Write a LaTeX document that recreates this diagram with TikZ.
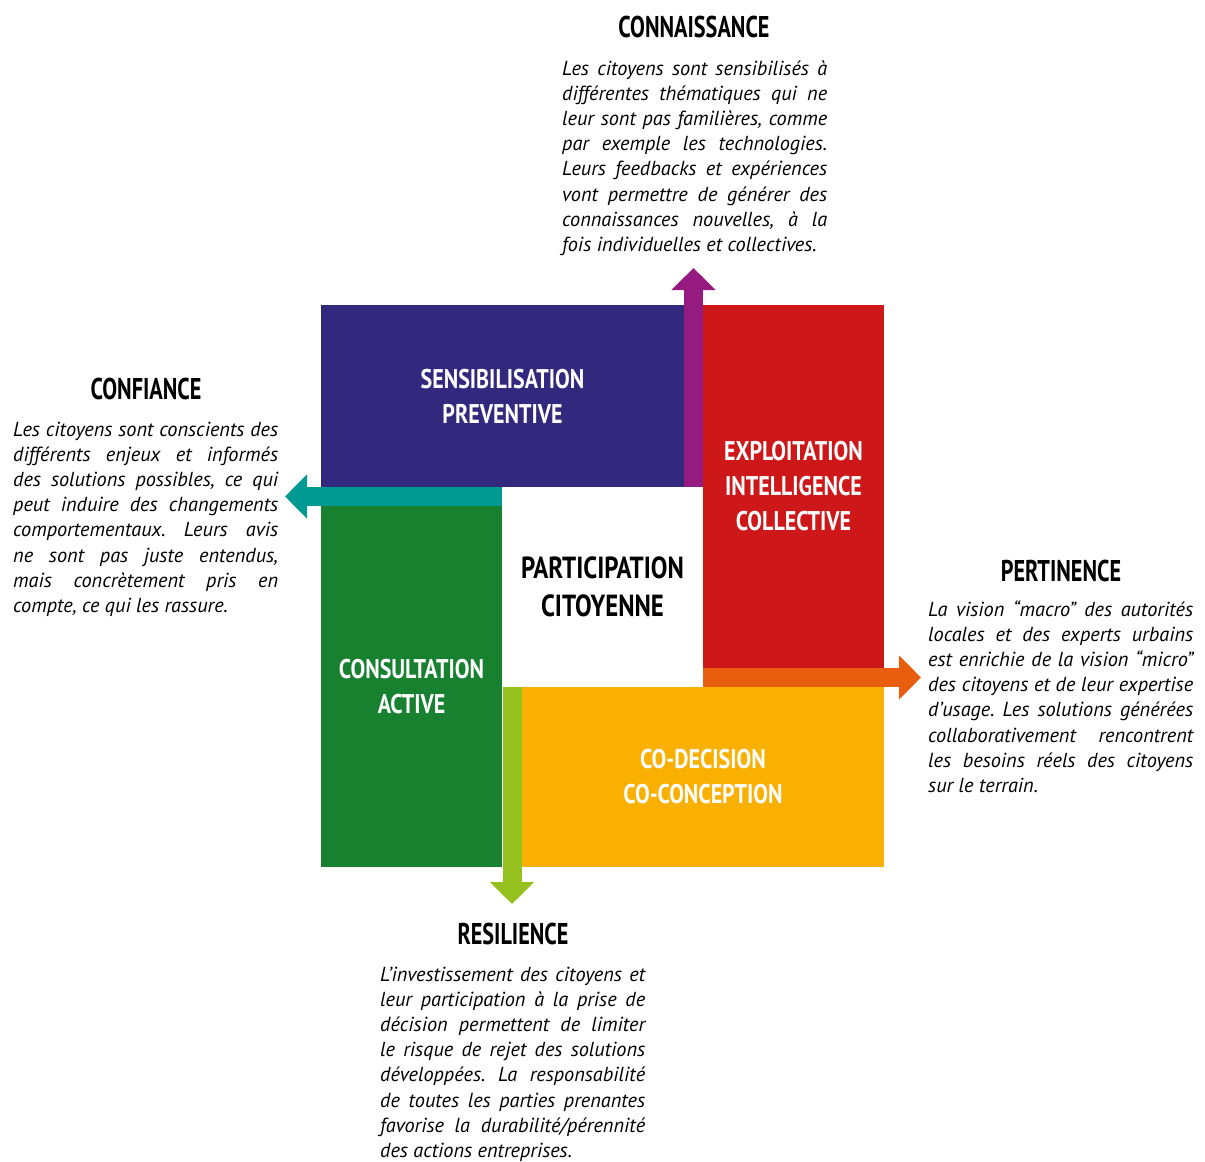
\documentclass[tikz,border=0pt]{standalone}
\usepackage{fontspec}
\setmainfont{PT Sans}
\newfontfamily\hfont[FakeStretch=0.815]{PT Sans}
\newfontfamily\hfontB[FakeStretch=0.74]{PT Sans}
\usetikzlibrary{arrows.meta}
\definecolor{cblue}{HTML}{32287E}
\definecolor{cpurple}{HTML}{951B80}
\definecolor{cred}{HTML}{CD1719}
\definecolor{cteal}{HTML}{009A93}
\definecolor{cgreen}{HTML}{17812F}
\definecolor{corangered}{HTML}{E95D0F}
\definecolor{clime}{HTML}{95C11F}
\definecolor{corange}{HTML}{F9B000}
\newlength\bw \setlength\bw{265pt}
\newcommand\jl[1]{\hbox to\bw{#1}}
\newcommand\lastl[1]{\hbox to\bw{#1\hfil}}
\newcommand\bodytext[1]{\vtop{\hsize=\bw\fontsize{20.3pt}{25.2pt}\selectfont\itshape\frenchspacing\baselineskip=25.2pt #1}}
\begin{document}
\begin{tikzpicture}[x=1pt,y=-1pt,
  block/.style={inner sep=0pt, outer sep=0pt, align=center, text=white,
    font=\hfont\bfseries\fontsize{27pt}{35pt}\selectfont},
  head/.style={inner sep=0pt, anchor=base, font=\hfontB\bfseries\fontsize{30pt}{30pt}\selectfont},
  body/.style={inner sep=0pt, anchor=base west},
  fatarrow/.style={line width=19pt, -{Triangle[length=22pt,width=43pt]}}]
\useasboundingbox (0,0) rectangle (1205,1162);
% blocks
\node[block, fill=cblue, minimum width=363pt, minimum height=182pt] (blue) at (502.5,396) {SENSIBILISATION\\PREVENTIVE};
\node[block, fill=cred, minimum width=181pt, minimum height=363pt] (red) at (793.5,486.5) {EXPLOITATION\\INTELLIGENCE\\COLLECTIVE};
\node[block, fill=cgreen, minimum width=181pt, minimum height=361pt] (green) at (411.5,686.5) {CONSULTATION\\ACTIVE};
\node[block, fill=corange, minimum width=362pt, minimum height=180pt] (orange) at (703,777) {CO-DECISION\\CO-CONCEPTION};
\node[block, text=black, minimum width=201pt, minimum height=200pt,
  font=\hfont\bfseries\fontsize{30.5pt}{38pt}\selectfont] (center) at (602.5,587) {PARTICIPATION\\CITOYENNE};
% arrow tips
\coordinate (tipN) at (693.5,268);
\coordinate (tipW) at (285,496.5);
\coordinate (tipE) at (921,677.5);
\coordinate (tipS) at (512,904);
\draw[fatarrow, cpurple] (center.north -| tipN) -- (tipN);
\draw[fatarrow, cteal] (center.west |- tipW) -- (tipW);
\draw[fatarrow, corangered] (center.east |- tipE) -- (tipE);
\draw[fatarrow, clime] (center.south -| tipS) -- (tipS);
% headings
\node[head] (hN) at (694,37.5) {CONNAISSANCE};
\node[head] (hW) at (146,399.5) {CONFIANCE};
\node[head] (hE) at (1061,581.5) {PERTINENCE};
\node[head] (hS) at (513,944.5) {RESILIENCE};
% texts
\node[body] (tN) at (562,75) {\bodytext{%
\jl{Les citoyens sont sensibilisés à}
\jl{différentes thématiques qui ne}
\jl{leur sont pas familières, comme}
\jl{par exemple les technologies.}
\jl{Leurs feedbacks et expériences}
\jl{vont permettre de générer des}
\jl{connaissances nouvelles, à la}
\lastl{fois individuelles et collectives.}}};
\node[body] (tW) at (13,436) {\bodytext{%
\jl{Les citoyens sont conscients des}
\jl{différents enjeux et informés}
\jl{des solutions possibles, ce qui}
\jl{peut induire des changements}
\jl{comportementaux. Leurs avis}
\jl{ne sont pas juste entendus,}
\jl{mais concrètement pris en}
\lastl{compte, ce qui les rassure.}}};
\node[body] (tE) at (928,616) {\bodytext{%
\jl{La vision “macro” des autorités}
\jl{locales et des experts urbains}
\jl{est enrichie de la vision “micro”}
\jl{des citoyens et de leur expertise}
\jl{d’usage. Les solutions générées}
\jl{collaborativement rencontrent}
\jl{les besoins réels des citoyens}
\lastl{sur le terrain.}}};
\node[body] (tS) at (380,981) {\bodytext{%
\jl{L’investissement des citoyens et}
\jl{leur participation à la prise de}
\jl{décision permettent de limiter}
\jl{le risque de rejet des solutions}
\jl{développées. La responsabilité}
\jl{de toutes les parties prenantes}
\jl{favorise la durabilité/pérennité}
\lastl{des actions entreprises.}}};
\end{tikzpicture}
\end{document}
